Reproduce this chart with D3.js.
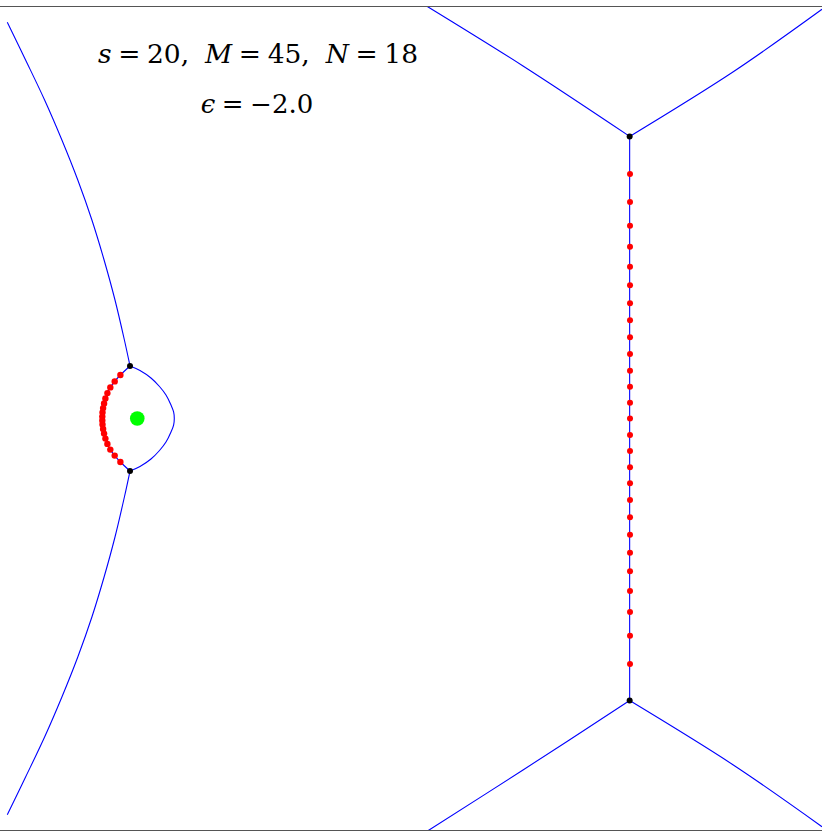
<!DOCTYPE html>
<html>
<head>
<meta charset="utf-8">
<script src="https://cdn.jsdelivr.net/npm/d3@7"></script>
<style>
  html, body { margin: 0; padding: 0; background: #fff; }
  svg { display: block; }
  .lbl { font-family: "DejaVu Serif", "Liberation Serif", serif; font-size: 26px; fill: #000; }
</style>
</head>
<body>
<div id="chart"></div>
<script>
// ---- data (complex-plane coordinates: [re, im]) ----
const leftUpperBranch = [[-1.4734,1.4425],[-1.4066,1.3052],[-1.3372,1.1596],[-1.2741,1.0139],[-1.2161,0.8683],[-1.1646,0.7227],[-1.1201,0.5771],[-1.0803,0.4314],[-1.0460,0.2858],[-1.0255,0.1912]];
const leftLowerBranch = [[-1.0255,-0.1912],[-1.0460,-0.2858],[-1.0803,-0.4314],[-1.1201,-0.5771],[-1.1646,-0.7227],[-1.2161,-0.8683],[-1.2741,-1.0139],[-1.3372,-1.1596],[-1.4066,-1.3052],[-1.4734,-1.4425]];
const bubbleRight = [[-1.0255,0.1912],[-0.9891,0.1748],[-0.9490,0.1475],[-0.9179,0.1165],[-0.8942,0.0856],[-0.8759,0.0491],[-0.8664,0.0237],[-0.8639,0],
                     [-0.8664,-0.0237],[-0.8759,-0.0491],[-0.8942,-0.0856],[-0.9179,-0.1165],[-0.9490,-0.1475],[-0.9891,-0.1748],[-1.0255,-0.1912]];
const leftZeros = [[-1.0606,0.1584],[-1.0814,0.1351],[-1.0974,0.1132],[-1.1080,0.0925],[-1.1153,0.0732],[-1.1201,0.0550],[-1.1237,0.0379],[-1.1259,0.0218],[-1.1266,0.0069],
                   [-1.1266,-0.0069],[-1.1259,-0.0218],[-1.1237,-0.0379],[-1.1201,-0.0550],[-1.1153,-0.0732],[-1.1080,-0.0925],[-1.0974,-0.1132],[-1.0814,-0.1351],[-1.0606,-0.1584]];
const rightZerosRe = 0.7993;
const rightZerosIm = [0.8902,0.7882,0.7019,0.6255,0.5527,0.4849,0.4194,0.3575,0.2956,0.2348,0.1740,0.1158,0.0575,0,
                      -0.0601,-0.1183,-0.1777,-0.2359,-0.2967,-0.3597,-0.4231,-0.4886,-0.5563,-0.6280,-0.7045,-0.7908,-0.8938];
const rightSpine = [[0.798,1.027],[0.798,-1.027]];
const rightTopLeft = [[0.798,1.027],[0.4088,1.2834],[0.0595,1.5]];
const rightTopRight = [[0.798,1.027],[1.1763,1.2626],[1.5,1.4898]];
const rightBottomLeft = [[0.798,-1.027],[0.4088,-1.2797],[0.0631,-1.5]];
const rightBottomRight = [[0.798,-1.027],[1.1763,-1.2615],[1.5,-1.4862]];
const saddles = [[-1.0255,0.1912],[-1.0255,-0.1912],[0.798,1.027],[0.798,-1.027]];
const poles = [[-0.999,0]];
const params = {s: 20, M: 45, N: 18, eps: "\u22122.0"};

// ---- drawing ----
const W = 822, H = 831;
const svg = d3.select("#chart").append("svg").attr("width", W).attr("height", H);
const x = d3.scaleLinear().domain([-1.5, 1.5]).range([0, 822]);
const y = d3.scaleLinear().domain([-1.5, 1.5]).range([830.5, 6.5]);

svg.append("defs").append("clipPath").attr("id", "clip")
  .append("rect").attr("x", x(-1.5)).attr("y", y(1.5)).attr("width", x(1.5) - x(-1.5)).attr("height", y(-1.5) - y(1.5));

const g = svg.append("g").attr("clip-path", "url(#clip)");
const line = d3.line().x(d => x(d[0])).y(d => y(d[1])).curve(d3.curveCatmullRom.alpha(0.5));

const leftArc = [saddles[0]].concat(leftZeros, [saddles[1]]);
const curves = [leftUpperBranch, leftLowerBranch, bubbleRight, leftArc, rightSpine, rightTopLeft, rightTopRight, rightBottomLeft, rightBottomRight];
g.selectAll("path.curve").data(curves).join("path")
  .attr("class", "curve")
  .attr("d", line)
  .attr("fill", "none")
  .attr("stroke", "#0000ff")
  .attr("stroke-width", 1.1);

// frame
svg.append("rect")
  .attr("x", x(-1.5) - 1).attr("y", y(1.5))
  .attr("width", x(1.5) - x(-1.5) + 2).attr("height", y(-1.5) - y(1.5))
  .attr("fill", "none").attr("stroke", "#555").attr("stroke-width", 1);

// zeros
g.selectAll("circle.lz").data(leftZeros).join("circle")
  .attr("class", "lz").attr("cx", d => x(d[0])).attr("cy", d => y(d[1])).attr("r", 3.2).attr("fill", "#ff0000");
g.selectAll("circle.rz").data(rightZerosIm).join("circle")
  .attr("class", "rz").attr("cx", x(rightZerosRe)).attr("cy", d => y(d)).attr("r", 3).attr("fill", "#ff0000");
g.selectAll("circle.sd").data(saddles).join("circle")
  .attr("class", "sd").attr("cx", d => x(d[0])).attr("cy", d => y(d[1])).attr("r", 3).attr("fill", "#000");
g.selectAll("circle.pole").data(poles).join("circle")
  .attr("class", "pole").attr("cx", d => x(d[0])).attr("cy", d => y(d[1])).attr("r", 7.3).attr("fill", "#00ff00");

// labels
const t1 = svg.append("text").attr("class", "lbl").attr("x", 258).attr("y", 63).attr("text-anchor", "middle").style("font-size", "26.5px");
t1.append("tspan").attr("font-style", "italic").text("s");
t1.append("tspan").text("\u2005=\u2005" + params.s + ",\u2002\u200A");
t1.append("tspan").attr("font-style", "italic").text("M");
t1.append("tspan").text("\u2005=\u2005" + params.M + ",\u2002\u200A");
t1.append("tspan").attr("font-style", "italic").text("N");
t1.append("tspan").text("\u2005=\u2005" + params.N);

const t2 = svg.append("text").attr("class", "lbl").attr("x", 257).attr("y", 112.5).attr("text-anchor", "middle");
t2.append("tspan").attr("font-style", "italic").text("\u03F5");
t2.append("tspan").text("\u2005=\u2005" + params.eps);
</script>
</body>
</html>
